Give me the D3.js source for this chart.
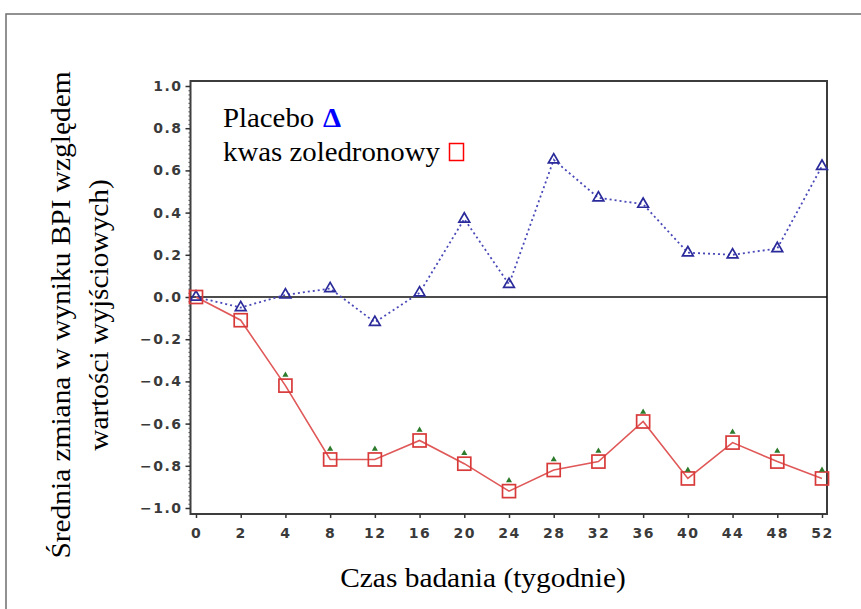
<!DOCTYPE html>
<html>
<head>
<meta charset="utf-8">
<script src="https://cdn.jsdelivr.net/npm/d3@7"></script>
<style>
  body { margin: 0; background: #fff; }
  svg { display: block; }
</style>
</head>
<body>
<div id="wrapper"></div>
<script>
// weeks of the study (categorical, evenly spaced)
const weeks = ["0", "2", "4", "8", "12", "16", "20", "24", "28", "32", "36", "40", "44", "48", "52"];
// mean change from baseline BPI
const placebo = [0, -0.05, 0.01, 0.04, -0.12, 0.02, 0.37, 0.06, 0.65, 0.47, 0.44, 0.21, 0.2, 0.23, 0.62];
const zoledronic = [0, -0.11, -0.42, -0.77, -0.77, -0.68, -0.79, -0.92, -0.82, -0.78, -0.59, -0.86, -0.69, -0.78, -0.86];
// small green markers drawn just above the red squares
const greenMarks = [null, null, -0.37, -0.72, -0.72, -0.63, -0.74, -0.87, -0.77, -0.73, -0.545, -0.82, -0.64, -0.73, -0.82];
const yTicks = [-1, -0.8, -0.6, -0.4, -0.2, 0, 0.2, 0.4, 0.6, 0.8, 1];

const legendLabels = ["Placebo", "kwas zoledronowy"];
const xTitle = "Czas badania (tygodnie)";
const yTitle = ["Średnia zmiana w wyniku BPI względem", "wartości wyjściowych)"];

let dimensions = {
  width: 861,
  height: 609,
  frame: { left: 190.5, right: 827, top: 81, bottom: 514 },
};

const svg = d3
  .select("#wrapper")
  .append("svg")
  .attr("width", dimensions.width)
  .attr("height", dimensions.height);

// outer picture border
svg
  .append("rect")
  .attr("x", 6)
  .attr("y", 14)
  .attr("width", 900)
  .attr("height", 700)
  .attr("fill", "none")
  .attr("stroke", "#6e6e6e")
  .attr("stroke-width", 1.5);

const xScale = d3.scalePoint().domain(weeks).range([196, 822]);
const yScale = d3.scaleLinear().domain([-1, 1]).range([508, 86]);

const f = dimensions.frame;

// plot frame
svg
  .append("rect")
  .attr("x", f.left)
  .attr("y", f.top)
  .attr("width", f.right - f.left)
  .attr("height", f.bottom - f.top)
  .attr("fill", "none")
  .attr("stroke", "#3c3c3c")
  .attr("stroke-width", 2);

// minor ticks on y
const yMinor = svg
  .append("g")
  .attr("transform", `translate(${f.left},0)`)
  .call(d3.axisLeft(yScale).tickValues(d3.range(-1, 1.001, 0.02)).tickSize(2).tickFormat(""));
yMinor.select(".domain").remove();
yMinor.selectAll("line").attr("stroke", "#555").attr("stroke-width", 1.2);

const tickFont = (sel, spacing) =>
  sel
    .attr("fill", "#3a3a3a")
    .style("font-family", "DejaVu Sans")
    .style("font-weight", "bold")
    .style("font-size", "14px")
    .style("letter-spacing", spacing);

// major y axis
const yAxis = svg
  .append("g")
  .attr("transform", `translate(${f.left},0)`)
  .call(
    d3
      .axisLeft(yScale)
      .tickValues(yTicks)
      .tickSize(5)
      .tickPadding(3)
      .tickFormat((d) => (Math.abs(d) < 1e-9 ? "0.0" : d3.format(".1f")(d)))
  );
yAxis.select(".domain").remove();
yAxis.selectAll("line").attr("stroke", "#333").attr("stroke-width", 1.5);
tickFont(yAxis.selectAll("text"), "1.5px");

// x axis
const xAxis = svg
  .append("g")
  .attr("transform", `translate(0,${f.bottom})`)
  .call(d3.axisBottom(xScale).tickSize(4).tickPadding(10));
xAxis.select(".domain").remove();
xAxis.selectAll("line").attr("stroke", "#333").attr("stroke-width", 1.5);
tickFont(xAxis.selectAll("text"), "1.5px");

// zero line
svg
  .append("line")
  .attr("x1", f.left)
  .attr("x2", f.right)
  .attr("y1", yScale(0))
  .attr("y2", yScale(0))
  .attr("stroke", "#111")
  .attr("stroke-width", 1.5);

const lineGenerator = d3
  .line()
  .x((d, i) => xScale(weeks[i]))
  .y((d) => yScale(d));

// placebo - dotted blue
svg
  .append("path")
  .attr("d", lineGenerator(placebo))
  .attr("fill", "none")
  .attr("stroke", "#4848b8")
  .attr("stroke-width", 1.8)
  .attr("stroke-dasharray", "2,3");

// zoledronic acid - solid red
svg
  .append("path")
  .attr("d", lineGenerator(zoledronic))
  .attr("fill", "none")
  .attr("stroke", "#e05858")
  .attr("stroke-width", 1.6);

// triangles
const tri = d3.symbol().type(d3.symbolTriangle).size(50);
svg
  .append("g")
  .selectAll("path")
  .data(placebo)
  .join("path")
  .attr("d", tri)
  .attr("transform", (d, i) => `translate(${xScale(weeks[i])},${yScale(d)})`)
  .attr("fill", "none")
  .attr("stroke", "#2a2a9a")
  .attr("stroke-width", 1.7);

// squares
svg
  .append("g")
  .selectAll("rect")
  .data(zoledronic)
  .join("rect")
  .attr("x", (d, i) => xScale(weeks[i]) - 6.5)
  .attr("y", (d) => yScale(d) - 6.5)
  .attr("width", 13)
  .attr("height", 13)
  .attr("fill", "none")
  .attr("stroke", "#d83a3a")
  .attr("stroke-width", 1.7);

// small green markers
const smallTri = d3.symbol().type(d3.symbolTriangle).size(16);
svg
  .append("g")
  .selectAll("path")
  .data(greenMarks.map((v, i) => ({ v, w: weeks[i] })).filter((d) => d.v !== null))
  .join("path")
  .attr("d", smallTri)
  .attr("transform", (d) => `translate(${xScale(d.w)},${yScale(d.v)})`)
  .attr("fill", "#2c7a2c");

// legend (the source text is slightly stretched horizontally)
const legend = svg
  .append("g")
  .attr("transform", "translate(223,0) scale(1.03,1)")
  .style("font-family", "Liberation Serif")
  .style("font-size", "28px");

legend
  .append("text")
  .attr("x", 0)
  .attr("y", 127)
  .attr("fill", "#000")
  .text(legendLabels[0]);
legend
  .append("text")
  .attr("x", 97)
  .attr("y", 127)
  .attr("fill", "#0000ff")
  .style("font-weight", "bold")
  .text("Δ");
legend
  .append("text")
  .attr("x", 0)
  .attr("y", 161)
  .attr("fill", "#000")
  .text(legendLabels[1]);
svg
  .append("rect")
  .attr("x", 449.5)
  .attr("y", 143.5)
  .attr("width", 14)
  .attr("height", 17)
  .attr("fill", "none")
  .attr("stroke", "#ff0000")
  .attr("stroke-width", 1.5);

// axis titles
svg
  .append("text")
  .attr("transform", "translate(483,587) scale(1.05,1)")
  .attr("text-anchor", "middle")
  .style("font-family", "Liberation Serif")
  .style("font-size", "28px")
  .text(xTitle);

const yTitleG = svg
  .append("g")
  .attr("transform", "translate(70,315) rotate(-90) scale(1.05,1)")
  .style("font-family", "Liberation Serif")
  .style("font-size", "28px");
yTitleG
  .selectAll("text")
  .data(yTitle)
  .join("text")
  .attr("x", 0)
  .attr("y", (d, i) => i * 38)
  .attr("text-anchor", "middle")
  .text((d) => d);
</script>
</body>
</html>
